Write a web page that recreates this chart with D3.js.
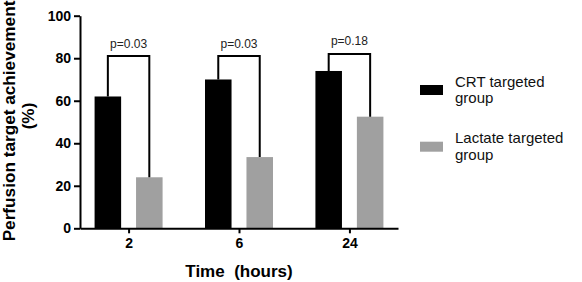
<!DOCTYPE html>
<html><head><meta charset="utf-8">
<script src="https://cdn.jsdelivr.net/npm/d3@7"></script>
<style>
body{margin:0;background:#fff;}
text{font-family:"Liberation Sans",Arial,sans-serif;}
</style></head>
<body><svg id="c" width="582" height="282"></svg>
<script>
const categories = ["2","6","24"];
const seriesNames = ["CRT targeted group","Lactate targeted group"];
const crtValues = [62, 70, 74];
const lactateValues = [24, 33.5, 52.5];
const pValues = ["p=0.03","p=0.03","p=0.18"];
const bracketLevels = [81, 81, 82];
const yTicks = [0,20,40,60,80,100];
const colors = ["#000000","#a0a0a0"];

const svg = d3.select("#c");
const y = d3.scaleLinear().domain([0,100]).range([228.3,15.7]);
const x = d3.scalePoint().domain(categories).range([80,398]).padding(0.44);
const xi = d3.scaleBand().domain(seriesNames).range([-34,34]).paddingInner(0.36);

const data = categories.map((c,i)=>({cat:c, vals:[crtValues[i], lactateValues[i]], p:pValues[i], b:bracketLevels[i]}));

const g = svg.append("g");
data.forEach(d=>{
  d.vals.forEach((v,j)=>{
    g.append("rect")
      .attr("x", x(d.cat)+xi(seriesNames[j]))
      .attr("y", y(v))
      .attr("width", xi.bandwidth())
      .attr("height", y(0)-y(v))
      .attr("fill", colors[j]);
  });
  const x1 = x(d.cat)+xi(seriesNames[0])+xi.bandwidth()/2;
  const x2 = x(d.cat)+xi(seriesNames[1])+xi.bandwidth()/2;
  svg.append("path")
    .attr("d", `M${x1},${y(d.vals[0])}V${y(d.b)}H${x2}V${y(d.vals[1])}`)
    .attr("fill","none").attr("stroke","#000").attr("stroke-width",2);
  svg.append("text").attr("x",(x1+x2)/2).attr("y",y(d.b)-8.5)
    .attr("text-anchor","middle").attr("font-size","12px").attr("fill","#222").text(d.p);
});

const ya = svg.append("g").attr("transform","translate(80,0)")
  .call(d3.axisLeft(y).tickValues(yTicks).tickSize(6).tickPadding(3).tickSizeOuter(0));
ya.selectAll("text").attr("font-size","14px").attr("font-weight","bold").attr("fill","#000")
  .style("font-family",'"Liberation Sans",Arial,sans-serif');
ya.selectAll("line,path").attr("stroke","#000").attr("stroke-width",2);

const xa = svg.append("g").attr("transform",`translate(0,${y(0)})`)
  .call(d3.axisBottom(x).tickSize(5).tickPadding(5).tickSizeOuter(0));
xa.selectAll("text").attr("font-size","14px").attr("font-weight","bold").attr("fill","#000")
  .style("font-family",'"Liberation Sans",Arial,sans-serif');
xa.selectAll("line,path").attr("stroke","#000").attr("stroke-width",2);

svg.append("text").attr("x",239).attr("y",277).attr("text-anchor","middle")
  .attr("font-size","17px").attr("font-weight","bold").attr("fill","#000")
  .attr("xml:space","preserve").style("white-space","pre").text("Time  (hours)");
const yt = svg.append("text").attr("transform","translate(0,121) rotate(-90)")
  .attr("text-anchor","middle").attr("font-size","17.2px").attr("font-weight","bold").attr("fill","#000");
yt.append("tspan").attr("x",0).attr("y",14.5).text("Perfusion target achievement");
yt.append("tspan").attr("x",5).attr("y",34).text("(%)");

const legLines = [["CRT targeted","group"],["Lactate targeted","group"]];
const legY = [85, 141.7];
legLines.forEach((lines,i)=>{
  svg.append("rect").attr("x",420).attr("y",legY[i]).attr("width",23).attr("height",10).attr("fill",colors[i]);
  const t = svg.append("text").attr("font-size","15px").attr("fill","#111");
  lines.forEach((l,k)=>t.append("tspan").attr("x",455).attr("y",legY[i]+1.7+k*16.5).text(l));
});
</script></body></html>
